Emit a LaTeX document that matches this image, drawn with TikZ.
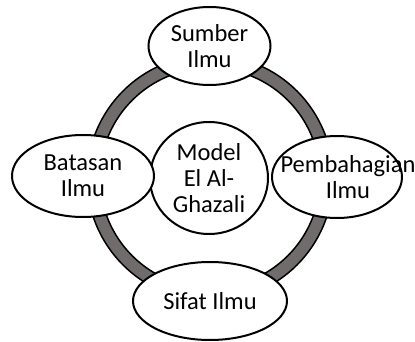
\documentclass[tikz,border=0pt]{standalone}
\usepackage{fontspec}
\setmainfont{Carlito}
\usetikzlibrary{shapes.geometric}
\definecolor{ringgray}{RGB}{112,108,108}
\begin{document}
\begin{tikzpicture}[x=1pt,y=-1pt,
  bubble/.style={ellipse,draw=black,line width=2pt,fill=white,inner sep=0pt,align=center,font=\fontsize{24.5}{26}\selectfont},
  lbl/.style={align=center,font=\fontsize{24.5}{26}\selectfont,inner sep=0pt}]
\useasboundingbox (0,0) rectangle (415,342);
\coordinate (c) at (210,178);
\draw[line width=1.5pt,fill=ringgray] (c) circle[radius=123];
\draw[line width=1.5pt,fill=white] (c) circle[radius=110];
\node[bubble,minimum width=118pt,minimum height=112pt] (mid) at (209,178) {Model\\El Al-\\Ghazali};
\node[bubble,minimum width=122pt,minimum height=78pt] (top) at (209.5,46) {Sumber\\Ilmu};
\node[bubble,minimum width=142pt,minimum height=82pt] (left) at (83,176) {Batasan\\Ilmu};
\node[bubble,minimum width=130pt,minimum height=82pt] (right) at (337,177) {};
\node[lbl] (righttext) at ([xshift=11pt]right.center) {Pembahagian\\Ilmu};
\node[bubble,minimum width=154pt,minimum height=78pt] (bot) at (210,301) {Sifat Ilmu};
\end{tikzpicture}
\end{document}
